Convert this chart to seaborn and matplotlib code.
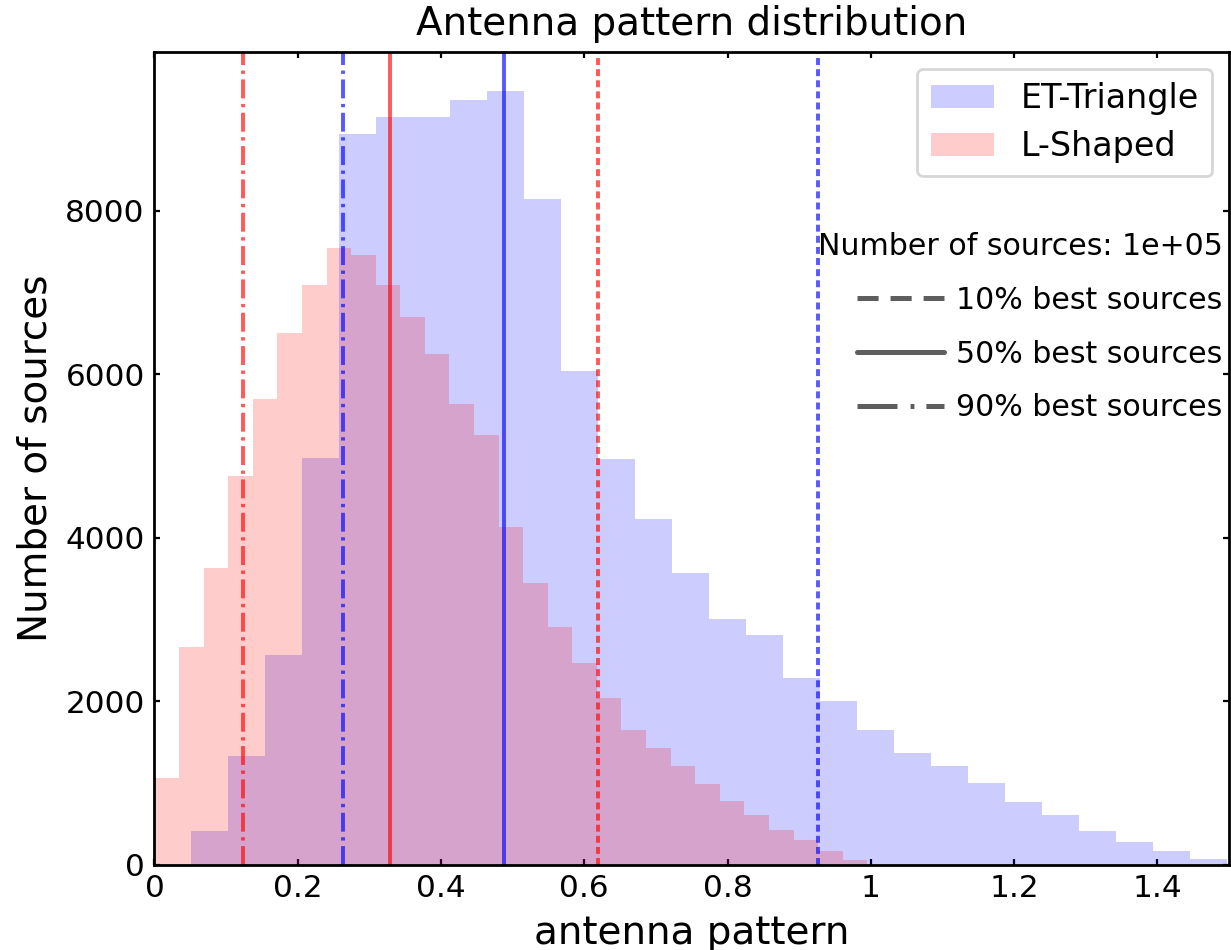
import numpy as np
import pandas as pd
import matplotlib
matplotlib.use("Agg")
import matplotlib.pyplot as plt
import seaborn as sns
from matplotlib.lines import Line2D
from matplotlib.patches import Patch

# ---- data -------------------------------------------------------------
n_sources = 100000
n_bins = 29

# histogram ranges (0 .. max value of each sample)
et_range = (0.0, 1.497)
l_range = (0.0, 0.995)

et_counts = [0, 410, 1330, 2560, 4970, 8940, 9150, 9150, 9360, 9470,
             8140, 6040, 4960, 4230, 3570, 3000, 2810, 2280, 2000, 1650,
             1370, 1210, 1000, 760, 610, 410, 280, 160, 70]
l_counts = [1060, 2660, 3630, 4750, 5700, 6510, 7090, 7540, 7460, 7090,
            6700, 6250, 5630, 5260, 4130, 3440, 2910, 2470, 2040, 1650,
            1420, 1205, 990, 780, 600, 420, 295, 160, 55]

# thresholds for the 10 %, 50 % and 90 % best sources
et_best = {"10%": 0.926, "50%": 0.4875, "90%": 0.263}
l_best = {"10%": 0.619, "50%": 0.329, "90%": 0.123}

labels = ["ET-Triangle", "L-Shaped"]

# ---- build tables ----------------------------------------------------------
et_edges = np.linspace(*et_range, n_bins + 1).tolist()
l_edges = np.linspace(*l_range, n_bins + 1).tolist()
et_df = pd.DataFrame({"x": 0.5 * (np.array(et_edges[:-1]) + np.array(et_edges[1:])),
                      "w": et_counts})
l_df = pd.DataFrame({"x": 0.5 * (np.array(l_edges[:-1]) + np.array(l_edges[1:])),
                     "w": l_counts})

# ---- style ------------------------------------------------------------------
sns.set_theme(style="ticks")
plt.rcParams.update({
    "font.family": ["DejaVu Sans"],
    "lines.scale_dashes": False,
    "xtick.direction": "in",
    "ytick.direction": "in",
    "xtick.top": True,
    "ytick.right": True,
    "xtick.major.size": 2.3,
    "ytick.major.size": 2.3,
    "xtick.major.width": 0.8,
    "ytick.major.width": 0.8,
    "axes.linewidth": 1.0,
    "axes.edgecolor": "black",
    "xtick.color": "black",
    "ytick.color": "black",
    "text.color": "black",
    "axes.labelcolor": "black",
})

fig = plt.figure(figsize=(6.155, 4.75), dpi=200)
ax = fig.add_axes([0.1255, 0.09, 0.9984 - 0.1255, 0.9453 - 0.09])

sns.histplot(data=et_df, x="x", weights="w", bins=et_edges, color="blue",
             alpha=0.2, linewidth=0, ax=ax)
sns.histplot(data=l_df, x="x", weights="w", bins=l_edges, color="red",
             alpha=0.2, linewidth=0, ax=ax)

line_dashes = {"10%": (2.5, 1.5), "50%": None, "90%": (6.8, 2.0, 1.2, 2.0)}
for best, col in ((et_best, "blue"), (l_best, "red")):
    for key, val in best.items():
        ln = ax.axvline(val, color=col, alpha=0.65, lw=1.4)
        if line_dashes[key] is not None:
            ln.set_dashes(line_dashes[key])

ax.set_xlim(0, 1.5)
ax.set_xticks([0, 0.2, 0.4, 0.6, 0.8, 1.0, 1.2, 1.4])
ax.set_xticklabels(["0", "0.2", "0.4", "0.6", "0.8", "1", "1.2", "1.4"])
ax.set_yticks([0, 2000, 4000, 6000, 8000])
ax.tick_params(labelsize=11.2, pad=3.5)
ax.set_xlabel("antenna pattern", fontsize=14)
ax.set_ylabel("Number of sources", fontsize=14)
ax.set_title("Antenna pattern distribution", fontsize=14)

# detector legend
patch_handles = [Patch(facecolor="blue", alpha=0.2, edgecolor="none"),
                 Patch(facecolor="red", alpha=0.2, edgecolor="none")]
leg1 = ax.legend(patch_handles, labels, loc="upper right", fontsize=12,
                 labelspacing=0.45, handlelength=1.9)
ax.add_artist(leg1)

# line-style legend
style_handles = [
    Line2D([], [], color="k", alpha=0.7, lw=1.8, dashes=(7.6, 4.3)),
    Line2D([], [], color="k", alpha=0.7, lw=1.8),
    Line2D([], [], color="k", alpha=0.7, lw=1.8, dashes=(14.4, 4.7, 1.4, 4.3)),
]
style_labels = [f"{k} best sources" for k in ("10%", "50%", "90%")]
ax.legend(style_handles, style_labels, loc="upper right",
          bbox_to_anchor=(1.019, 0.812), frameon=False, fontsize=10.8,
          title=f"Number of sources: {n_sources:.0e}", title_fontsize=10.8,
          alignment="right", handlelength=2.9, handletextpad=0.4,
          labelspacing=0.83)

fig.savefig("out.png", dpi=200)
